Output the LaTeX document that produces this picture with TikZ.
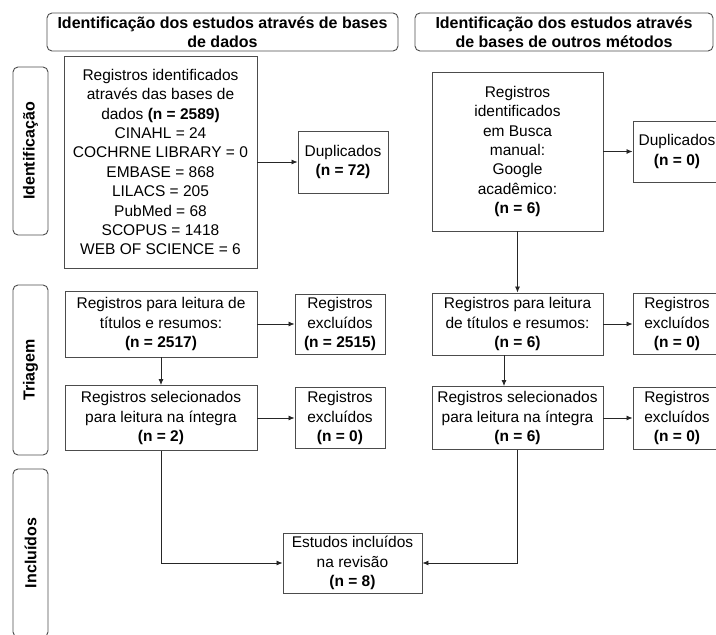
\documentclass[tikz,border=0pt]{standalone}
\usepackage{fontspec}
\setmainfont{Liberation Sans}
\usetikzlibrary{arrows.meta,positioning}

\begin{document}
\begin{tikzpicture}[
x=1pt, y=-1pt,
box/.style={draw=black!70, line width=0.9pt, align=center, inner sep=0pt, font=\fontsize{15.5}{19.4}\selectfont},
head/.style={box, rounded corners=5pt, font=\bfseries\fontsize{16}{19.5}\selectfont},
phase/.style={draw=black!70, line width=0.9pt, rounded corners=5pt, rotate=90, minimum height=35pt, inner sep=0pt, font=\bfseries\fontsize{16}{18}\selectfont},
arrow/.style={-{Latex[length=6pt,width=5pt]}, line width=0.8pt, black!85}
]
\useasboundingbox (0,0) rectangle (716,635);

% cabecalhos
\node[head, minimum width=351pt, minimum height=38pt] (hdb) at (222.5,32) {Identificação dos estudos através de bases\\de dados};
\node[head, minimum width=298pt, minimum height=38pt] (hout) at (564,32) {Identificação dos estudos através\\de bases de outros métodos};

% fases
\node[phase, minimum width=168pt] (fid) at (30.5,151) {Identificação};
\node[phase, minimum width=170pt] (ftr) at (30.5,370) {Triagem};
\node[phase, minimum width=168pt] (fin) at (30.5,553) {Incluídos};

% bases de dados
\node[box, minimum width=193pt, minimum height=212pt] (db) at (160.5,162) {Registros identificados\\através das bases de\\dados \textbf{(n = 2589)}\\CINAHL = 24\\COCHRNE LIBRARY = 0\\EMBASE = 868\\LILACS = 205\\PubMed = 68\\SCOPUS = 1418\\WEB OF SCIENCE = 6};
\node[box, minimum width=90pt, minimum height=62pt] (dup1) at (343,162) {Duplicados\\\textbf{(n = 72)}};
\node[box, minimum width=192pt, minimum height=66pt] (tri1) at (161,324) {Registros para leitura de\\títulos e resumos:\\\textbf{(n = 2517)}};
\node[box, minimum width=90pt, minimum height=60pt] (exc1) at (340,324) {Registros\\excluídos\\\textbf{(n = 2515)}};
\node[box, minimum width=192pt, minimum height=65pt] (sel1) at (161,418) {Registros selecionados\\para leitura na íntegra\\\textbf{(n = 2)}};
\node[box, minimum width=90pt, minimum height=61pt] (exc2) at (340,418) {Registros\\excluídos\\\textbf{(n = 0)}};

% outros metodos
\node[box, minimum width=171pt, minimum height=159pt] (busca) at (517.5,151.5) {Registros\\identificados\\em Busca\\manual:\\Google\\acadêmico:\\\textbf{(n = 6)}};
\node[box, minimum width=88pt, minimum height=61pt] (dup2) at (677,151.5) {Duplicados\\\textbf{(n = 0)}};
\node[box, minimum width=171pt, minimum height=62pt] (tri2) at (517.5,324) {Registros para leitura\\de títulos e resumos:\\\textbf{(n = 6)}};
\node[box, minimum width=88pt, minimum height=61pt] (exc3) at (677,324) {Registros\\excluídos\\\textbf{(n = 0)}};
\node[box, minimum width=171pt, minimum height=63pt] (sel2) at (517.5,418) {Registros selecionados\\para leitura na íntegra\\\textbf{(n = 6)}};
\node[box, minimum width=88pt, minimum height=62pt] (exc4) at (677,418) {Registros\\excluídos\\\textbf{(n = 0)}};

% incluidos
\node[box, minimum width=139pt, minimum height=60pt] (inc) at (352.5,563) {Estudos incluídos\\na revisão\\\textbf{(n = 8)}};

\draw[arrow] (db)--(dup1);
\draw[arrow] (tri1)--(exc1);
\draw[arrow] (sel1)--(exc2);
\draw[arrow] (tri1)--(sel1);
\draw[arrow] (busca)--(dup2);
\draw[arrow] (busca)--(tri2);
\draw[arrow] (tri2)--(exc3);
\draw[arrow] (sel2)--(exc4);
\draw[arrow] ([xshift=-13.5pt]tri2.south)--([xshift=-13.5pt]sel2.north);
\draw[arrow] (sel1.south)|-(inc.west);
\draw[arrow] (sel2.south)|-(inc.east);
\end{tikzpicture}
\end{document}
